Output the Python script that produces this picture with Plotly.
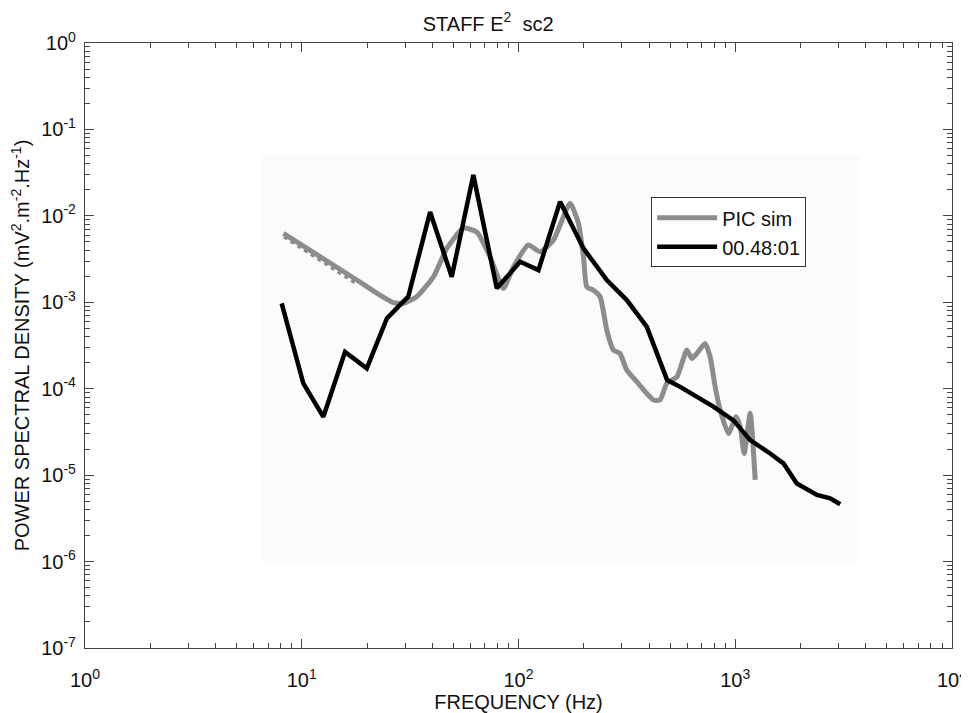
import plotly.graph_objects as go

# ---- data (frequency Hz, PSD) ----
obs_freq = [8.08, 10.17, 12.58, 15.84, 19.95, 24.7, 27.4, 31.0, 39.1, 49.2, 61.9, 79.4,
            101.7, 123.6, 155.6, 199.4, 255.5, 316, 391, 485, 557, 793, 981, 1172,
            1449, 1668, 1924, 2382, 2742, 3049]
obs_psd = [9.7e-4, 1.15e-4, 4.73e-5, 2.67e-4, 1.72e-4, 6.5e-4, 8.5e-4, 1.16e-3, 1.11e-2,
           1.97e-3, 2.97e-2, 1.45e-3, 2.94e-3, 2.36e-3, 1.46e-2, 4.2e-3, 1.81e-3, 1.06e-3,
           5.2e-4, 1.26e-4, 1.05e-4, 6.2e-5, 4.3e-5, 2.54e-5, 1.78e-5, 1.37e-5, 8.0e-6,
           5.9e-6, 5.4e-6, 4.6e-6]

sim_freq = [8.23, 17.94, 22.98, 26.5, 29.4, 33.9, 40.5, 46.7, 55.7, 64.2, 73.9, 85.2,
            94.8, 111.1, 125.9, 145, 173, 189, 199.4, 206.6, 221.8, 238, 255.5, 274,
            294, 316, 352, 391, 420, 450, 483, 538, 598, 631, 665, 726, 766, 808, 852,
            930, 1009, 1054, 1099, 1172, 1236]
sim_psd = [6.27e-3, 1.81e-3, 1.21e-3, 9.9e-4, 9.7e-4, 1.16e-3, 1.97e-3, 4.2e-3, 7.2e-3,
           6.5e-3, 3.36e-3, 1.45e-3, 2.58e-3, 4.6e-3, 3.84e-3, 5.25e-3, 1.40e-2, 8.2e-3,
           3.36e-3, 1.51e-3, 1.38e-3, 1.16e-3, 4.77e-4, 2.8e-4, 2.56e-4, 1.64e-4, 1.20e-4,
           8.8e-5, 7.4e-5, 7.4e-5, 1.15e-4, 1.37e-4, 2.8e-4, 2.24e-4, 2.56e-4, 3.34e-4,
           2.34e-4, 1.05e-4, 5.65e-5, 3.04e-5, 4.73e-5, 3.62e-5, 1.78e-5, 5.2e-5, 8.8e-6]

# dotted shadow at the start of the simulated curve
sim_dot_freq = [8.3, 17.6]
sim_dot_psd = [5.75e-3, 1.70e-3]

series_names = ["PIC sim", "00.48:01"]
x_exponents = [0, 1, 2, 3, 4]
y_exponents = [-7, -6, -5, -4, -3, -2, -1, 0]

FONT = "Liberation Sans, Arial, sans-serif"
GREY = "#8c8c8c"
INK = "#111111"
AX = "#444444"


def decade_ticks(exps):
    vals = [10.0 ** e for e in exps]
    text = ["10<sup>%d</sup>" % e for e in exps]
    minor = [m * 10.0 ** e for e in exps[:-1] for m in range(2, 10)]
    return vals, text, minor


xv, xt, xm = decade_ticks(x_exponents)
yv, yt, ym = decade_ticks(y_exponents)

fig = go.Figure()
# the dotted shadow lives on the overlay axes (same ranges) so that they get drawn with their minor ticks
fig.add_trace(go.Scatter(x=sim_dot_freq, y=sim_dot_psd, mode="lines", xaxis="x2", yaxis="y2",
                         line=dict(color=GREY, width=4, dash="dot"),
                         showlegend=False, hoverinfo="skip"))
fig.add_trace(go.Scatter(x=sim_freq, y=sim_psd, mode="lines", name=series_names[0],
                         line=dict(color=GREY, width=5, shape="spline", smoothing=0.5)))
fig.add_trace(go.Scatter(x=obs_freq, y=obs_psd, mode="lines", name=series_names[1],
                         line=dict(color="#000000", width=4.5)))

# faint scanned-background patch
fig.add_shape(type="rect", xref="paper", yref="paper", x0=0.204, x1=0.894, y0=0.142, y1=0.815,
              fillcolor="#fbfbfb", line=dict(width=0), layer="below")


def axis(vals, text, exps, title, standoff, label_standoff):
    return dict(
        type="log", range=[exps[0], exps[-1]], automargin=False,
        tickmode="array", tickvals=vals, ticktext=text,
        showgrid=False, zeroline=False,
        showline=True, linecolor=AX, linewidth=1.2, mirror="ticks",
        ticks="inside", ticklen=9, tickwidth=1.2, tickcolor=AX,
        ticklabelstandoff=label_standoff,
        tickfont=dict(family=FONT, size=20, color=INK),
        title=dict(text=title, standoff=standoff, font=dict(family=FONT, size=20, color=INK)),
    )


def minor_axis(minor, exps, over, anchor, side):
    return dict(
        type="log", range=[exps[0], exps[-1]], automargin=False,
        overlaying=over, anchor=anchor, side=side,
        tickmode="array", tickvals=minor, showticklabels=False,
        showgrid=False, zeroline=False, showline=False, mirror="ticks",
        ticks="inside", ticklen=5, tickwidth=1, tickcolor=AX,
    )


# the page body adds an 8px offset, so the figure is sized/margined to compensate
fig.update_layout(
    width=969, height=705,
    paper_bgcolor="white", plot_bgcolor="white",
    margin=dict(l=77, r=25, t=35, b=65),
    title=dict(text="STAFF E<sup>2</sup>  sc2", x=0.4955, xanchor="center", y=0.978, yanchor="middle",
               font=dict(family=FONT, size=20, color=INK)),
    xaxis=axis(xv, xt, x_exponents, "FREQUENCY (Hz)", 0, 14),
    yaxis=axis(yv, yt, y_exponents,
               "POWER SPECTRAL DENSITY (mV<sup>2</sup>.m<sup>-2</sup>.Hz<sup>-1</sup>)", 6, 4),
    xaxis2=minor_axis(xm, x_exponents, "x", "y", "bottom"),
    yaxis2=minor_axis(ym, y_exponents, "y", "x", "left"),
    legend=dict(x=0.653, y=0.745, xanchor="left", yanchor="top",
                bgcolor="white", bordercolor="#333333", borderwidth=1,
                font=dict(family=FONT, size=20, color=INK),
                itemwidth=60, tracegroupgap=2),
    showlegend=True,
)

fig.write_html("out.html")
